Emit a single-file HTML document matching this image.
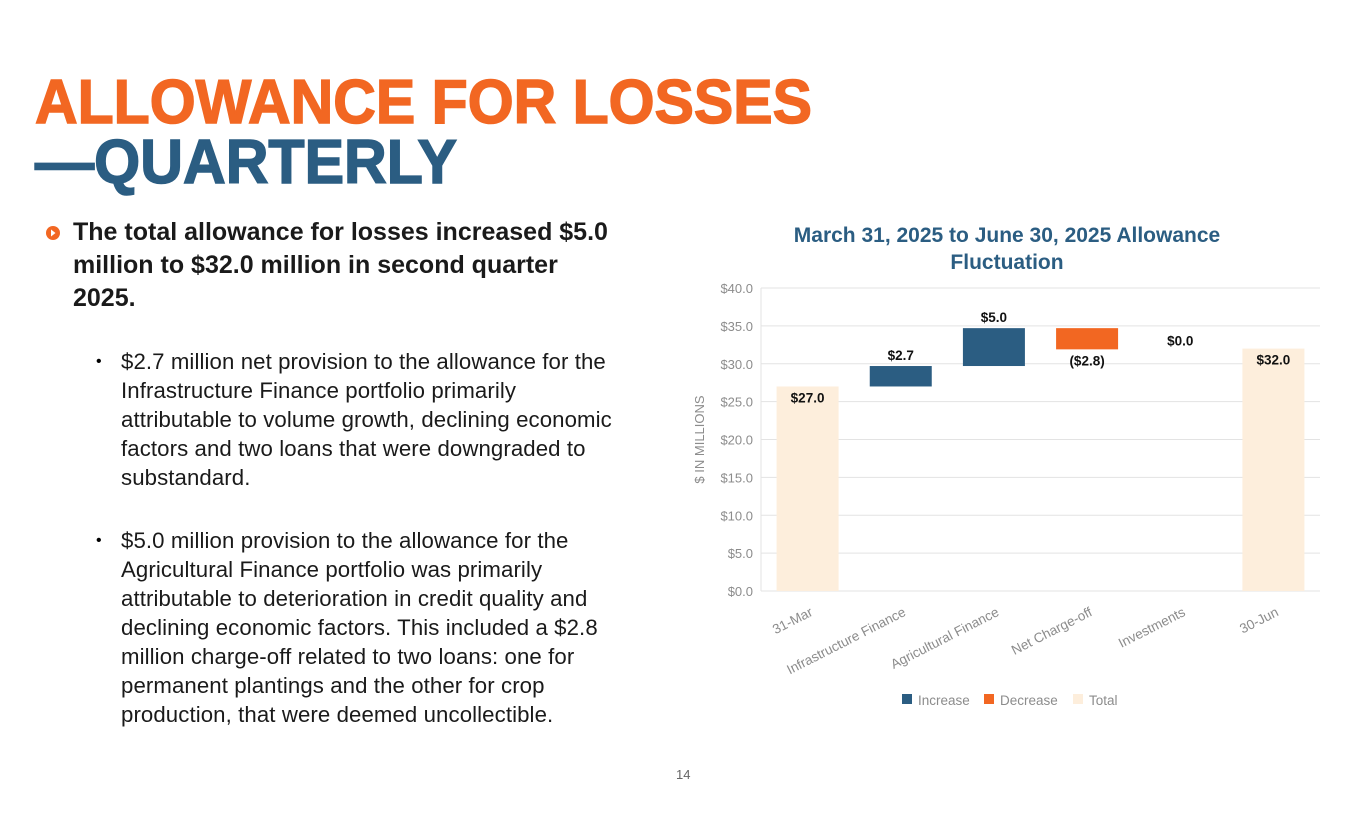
<!DOCTYPE html>
<html><head><meta charset="utf-8"><style>
body{margin:0;width:1365px;height:829px;background:#fff;position:relative;overflow:hidden;font-family:"Liberation Sans",sans-serif}
.a{position:absolute}
.sub{position:absolute;left:121px;font-size:22.2px;color:#1a1a1a;line-height:29px;width:560px;white-space:nowrap;letter-spacing:0.1px}
.dot{position:absolute;left:96px;font-size:16px;line-height:29px}
</style></head><body>
<svg class="a" style="left:0;top:0" width="830" height="200">
<text x="35" y="123" font-family="Liberation Sans" font-weight="bold" font-size="62" fill="#F26722" stroke="#F26722" stroke-width="1.5" textLength="777" lengthAdjust="spacingAndGlyphs">ALLOWANCE FOR LOSSES</text>
<text x="35" y="183" font-family="Liberation Sans" font-weight="bold" font-size="62" fill="#2B5D82" stroke="#2B5D82" stroke-width="1.5" textLength="422" lengthAdjust="spacingAndGlyphs">—QUARTERLY</text>
</svg>
<svg class="a" style="left:45px;top:225px" width="16" height="16"><circle cx="8" cy="8" r="7" fill="#F26722"/><path d="M6 4.5 L10.5 8 L6 11.5Z" fill="#fff"/></svg>
<div class="a" style="left:73px;top:216px;width:600px;white-space:nowrap;font-size:25px;font-weight:bold;line-height:33px;color:#1a1a1a">The total allowance for losses increased $5.0<br>million to $32.0 million in second quarter<br>2025.</div>
<div class="dot" style="top:347px">•</div>
<div class="sub" style="top:347px">$2.7 million net provision to the allowance for the<br>Infrastructure Finance portfolio primarily<br>attributable to volume growth, declining economic<br>factors and two loans that were downgraded to<br>substandard.</div>
<div class="dot" style="top:526px">•</div>
<div class="sub" style="top:526px">$5.0 million provision to the allowance for the<br>Agricultural Finance portfolio was primarily<br>attributable to deterioration in credit quality and<br>declining economic factors. This included a $2.8<br>million charge-off related to two loans: one for<br>permanent plantings and the other for crop<br>production, that were deemed uncollectible.</div>
<div class="a" style="left:676px;top:767px;font-size:13px;color:#666">14</div>
<svg id="chart" class="a" style="left:680px;top:210px" width="680" height="510"></svg>
<script>
const categories=["31-Mar","Infrastructure Finance","Agricultural Finance","Net Charge-off","Investments","30-Jun"];
const values=[27.0,2.7,5.0,-2.8,0.0,32.0];
const kinds=["total","inc","inc","dec","dec","total"];
const labels=["$27.0","$2.7","$5.0","($2.8)","$0.0","$32.0"];
const ticks=[0,5,10,15,20,25,30,35,40];
const ox=680,oy=210;
const svg=document.getElementById('chart');
const NS="http://www.w3.org/2000/svg";
const L=761-ox,R=1320-ox,T=288-oy,B=591-oy,ymax=40;
const y=v=>B-(v/ymax)*(B-T);
const bw=(R-L)/categories.length;
const xc=i=>L+bw*(i+0.5);
const col={inc:"#2B5D82",dec:"#F26722",total:"#FDEEDC"};
function mk(t,a){const e=document.createElementNS(NS,t);for(const k in a)e.setAttribute(k,a[k]);svg.appendChild(e);return e;}
let t=mk('text',{x:1007-ox,y:32,'text-anchor':'middle','font-size':21,'font-weight':'bold',fill:'#2B5D82'});t.textContent="March 31, 2025 to June 30, 2025 Allowance";

t=mk('text',{x:1007-ox,y:59,'text-anchor':'middle','font-size':21,'font-weight':'bold',fill:'#2B5D82'});t.textContent="Fluctuation";

ticks.forEach(v=>{const g=mk('line',{x1:L,x2:R,y1:y(v),y2:y(v),stroke:'#e3e3e3','stroke-width':1});

const tx=mk('text',{x:L-8,y:y(v)+5,'text-anchor':'end','font-size':13,fill:'#8c8c8c'});tx.textContent='$'+v.toFixed(1);
});
mk('line',{x1:L,x2:L,y1:T,y2:B,stroke:'#e3e3e3'});
const yt=mk('text',{transform:`translate(${L-57},${(T+B)/2}) rotate(-90)`,'text-anchor':'middle','font-size':13,fill:'#8c8c8c'});yt.textContent="$ IN MILLIONS";

let run=0;
categories.forEach((c,i)=>{
 let lo,hi,v=values[i];
 if(kinds[i]==="total"){lo=0;hi=v;run=v;}else{const s=run;run=run+v;lo=Math.min(s,run);hi=Math.max(s,run);}
 const bx=xc(i)-31;
 const r=mk('rect',{x:bx,y:y(hi),width:62,height:Math.max(0,y(lo)-y(hi)),fill:col[kinds[i]]});
 
 let ly;
 if(kinds[i]==="total")ly=y(hi)+16;
 else if(kinds[i]==="dec")ly=y(lo)+16;
 else ly=y(hi)-6;
 if(kinds[i]==="dec"&&v===0)ly=y(hi)-4;
 const lt=mk('text',{x:xc(i),y:ly,'text-anchor':'middle','font-size':13.5,'font-weight':'bold',fill:'#111'});lt.textContent=labels[i];
 
 const ct=mk('text',{transform:`translate(${xc(i)+6},${B+24}) rotate(-27)`,'text-anchor':'end','font-size':13.5,fill:'#8c8c8c'});ct.textContent=c;
 
});
const leg=[["Increase","#2B5D82",902],["Decrease","#F26722",984],["Total","#FDEEDC",1073]];
leg.forEach(l=>{const r=mk('rect',{x:l[2]-ox,y:694-oy,width:10,height:10,fill:l[1]});

const tx=mk('text',{x:l[2]-ox+16,y:705-oy,'font-size':13.5,fill:'#8c8c8c'});tx.textContent=l[0];
});
</script>
</body></html>
